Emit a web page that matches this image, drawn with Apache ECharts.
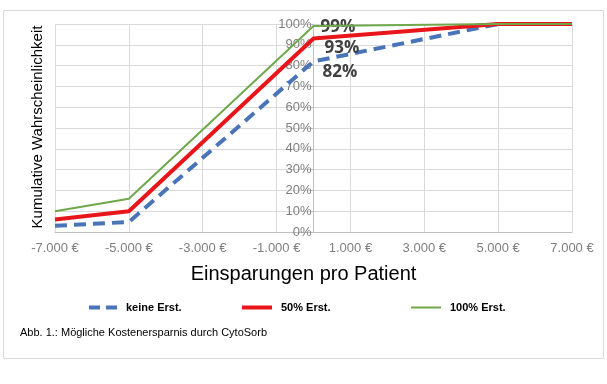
<!DOCTYPE html>
<html><head><meta charset="utf-8">
<script src="https://cdn.jsdelivr.net/npm/echarts@6/dist/echarts.min.js"></script>
<style>html,body{margin:0;padding:0;background:#fff}#c{width:607px;height:384px}</style>
</head><body><div id="c"></div>
<script>
const xValues = [-7000, -5000, 0, 5000, 7000];
const keineErst = [0.03, 0.048, 0.82, 1.0, 1.0];
const erst50 = [0.06, 0.10, 0.93, 1.0, 1.0];
const erst100 = [0.10, 0.16, 0.99, 1.0, 1.0];
const seriesNames = ['keine Erst.', '50% Erst.', '100% Erst.'];
const labelIndex = 2;
const xTitle = 'Einsparungen pro Patient';
const yTitle = 'Kumulative Wahrscheinlichkeit';
const caption = 'Abb. 1.: Mögliche Kostenersparnis durch CytoSorb';

function fmtEuro(v){
  const s = Math.abs(v).toString().replace(/\B(?=(\d{3})+(?!\d))/g, '.');
  return (v < 0 ? '-' : '') + s + ' €';
}
function pts(arr){ return xValues.map((x,i)=>[x, arr[i]]); }
function mark(arr, off){
  return {symbol:'rect', symbolSize:0, silent:true, animation:false,
    label:{show:true, position:'right', offset:off, formatter: Math.round(arr[labelIndex]*100)+'%',
      fontFamily:'Open Sans', fontWeight:'bold', fontSize:17, color:'#404040'},
    data:[{coord:[xValues[labelIndex], arr[labelIndex]]}]};
}
const chart = echarts.init(document.getElementById('c'), null, {renderer:'canvas'});
const legendBase = {orient:'horizontal', top:297, itemWidth:30, itemHeight:4,
  textStyle:{fontFamily:'Liberation Sans', fontSize:11, fontWeight:'bold', color:'#000', padding:[0,0,0,4]}};
const option = {
  animation:false,
  grid:{left:55, right:35, top:24, bottom:152},
  xAxis:{type:'value', min:-7000, max:7000, interval:2000,
    axisLine:{onZero:false, lineStyle:{color:'#bfbfbf'}}, axisTick:{show:false},
    axisLabel:{formatter:fmtEuro, color:'#7f7f7f', fontSize:13, fontFamily:'Liberation Sans', margin:10},
    splitLine:{show:true, lineStyle:{color:'#d9d9d9'}}},
  yAxis:{type:'value', min:0, max:1, interval:0.1, position:'left', offset:0,
    axisLine:{show:true, onZero:false, lineStyle:{color:'#bfbfbf'}},
    axisTick:{show:true, length:4, lineStyle:{color:'#bfbfbf'}},
    axisLabel:{formatter:v=>Math.round(v*100)+'%', color:'#7f7f7f', fontSize:13, fontFamily:'Liberation Sans', margin:2},
    splitLine:{show:true, lineStyle:{color:'#d9d9d9'}}},
  legend:[
    Object.assign({left:84, data:[{name:seriesNames[0], icon:'path://M0,0h11v4h-11z M17,0h11v4h-11z'}]}, legendBase, {itemWidth:28}),
    Object.assign({left:237, data:[{name:seriesNames[1], icon:'rect'}]}, legendBase),
    Object.assign({left:406, data:[{name:seriesNames[2], icon:'rect'}]}, legendBase, {itemHeight:2})
  ],
  series:[
    {name:seriesNames[0], type:'line', symbol:'none', data:pts(keineErst),
      lineStyle:{color:'#4a74b8', width:4, type:[12,7]}, itemStyle:{color:'#4a74b8'}, z:3,
      markPoint:mark(keineErst,[4,11])},
    {name:seriesNames[1], type:'line', symbol:'none', data:pts(erst50),
      lineStyle:{color:'#e8161b', width:4}, itemStyle:{color:'#e8161b'}, z:4,
      markPoint:mark(erst50,[6,10])},
    {name:seriesNames[2], type:'line', symbol:'none', data:pts(erst100),
      lineStyle:{color:'#6fa84a', width:2}, itemStyle:{color:'#6fa84a'}, z:5,
      markPoint:mark(erst100,[2,1])}
  ],
  graphic:[
    {type:'rect', shape:{x:3.5, y:10.5, width:600, height:348}, style:{fill:'none', stroke:'#d9d9d9', lineWidth:1}, z:-10},
    {type:'text', left:'center', top:264, style:{text:xTitle, font:'20px "Liberation Sans"', fill:'#000'}},
    {type:'text', x:38, y:127, rotation:Math.PI/2, style:{text:yTitle, font:'15px "Liberation Sans"', fill:'#000', align:'center', verticalAlign:'middle'}},
    {type:'text', left:20, top:327, style:{text:caption, font:'11px "Liberation Sans"', fill:'#000'}}
  ]
};
chart.setOption(option);
const x0 = chart.convertToPixel({xAxisIndex:0}, 0);
const xMin = chart.convertToPixel({xAxisIndex:0}, -7000);
chart.setOption({yAxis:{offset:-(x0 - xMin)}});
</script></body></html>
